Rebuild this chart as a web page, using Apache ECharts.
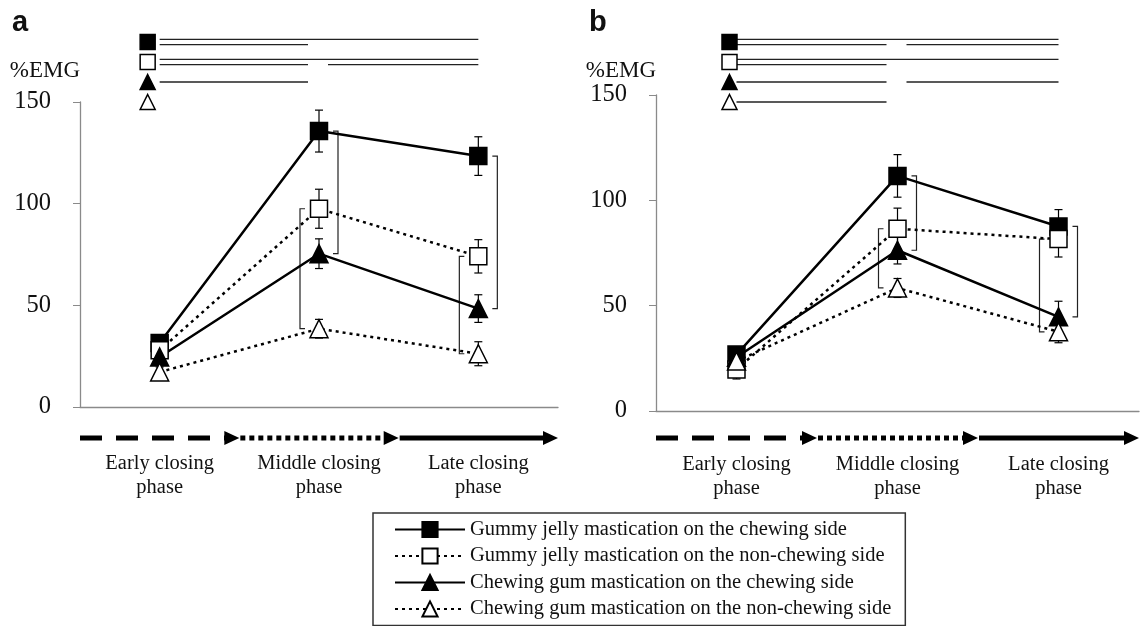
<!DOCTYPE html>
<html>
<head>
<meta charset="utf-8">
<script src="https://cdn.jsdelivr.net/npm/echarts@6/dist/echarts.min.js"></script>
<style>
  html, body { margin: 0; background: #fff; }
  #chart { width: 1140px; height: 626px; }
</style>
</head>
<body>
<div id="chart"></div>
<script>
// categories
const phases = ["Early closing\nphase", "Middle closing\nphase", "Late closing\nphase"];
const seriesNames = [
  "Gummy jelly mastication on the chewing side",
  "Gummy jelly mastication on the non-chewing side",
  "Chewing gum mastication on the chewing side",
  "Chewing gum mastication on the non-chewing side"
];
const yTicks = [0, 50, 100, 150];

// panel a: mean %EMG and error (SD)
const jellyChewA = [31.5, 135.7, 123.4];
const jellyNonA = [27.9, 97.5, 74.1];
const gumChewA = [24.6, 75.4, 48.4];
const gumNonA = [17.2, 38.5, 26.2];
const jellyChewErrA = [3, 10.3, 9.5];
const jellyNonErrA = [3, 9.6, 8.2];
const gumChewErrA = [3, 7.3, 6.8];
const gumNonErrA = [2.5, 4.6, 5.9];

// panel b
const jellyChewB = [26.8, 111.6, 87.6];
const jellyNonB = [19.7, 86.5, 81.6];
const gumChewB = [25.5, 76.3, 44.7];
const gumNonB = [23.7, 58.4, 37.6];
const jellyChewErrB = [3, 10.1, 8];
const jellyNonErrB = [4.5, 9.8, 8.5];
const gumChewErrB = [3, 6.5, 7.4];
const gumNonErrB = [3, 4.5, 5.2];

// significant differences between phases, per series (row)
const sigA = [[[0, 2], [0, 1]], [[0, 2], [0, 1], [1, 2]], [[0, 1]], []];
const sigB = [[[0, 2], [0, 1], [1, 2]], [[0, 2], [0, 1]], [[0, 1], [1, 2]], [[0, 1]]];

// brackets between series at a phase: [phase, seriesTop, seriesBottom, side]
const brackets = [[1, 0, 2, 1], [1, 1, 3, -1], [2, 0, 2, 1], [2, 1, 3, -1]];

const SERIF = "Liberation Serif";
const looks = [
  { symbol: "rect", size: 17, fill: "#000", line: "solid" },
  { symbol: "rect", size: 17, fill: "#fff", line: [3, 4] },
  { symbol: "triangle", size: 18, fill: "#000", line: "solid" },
  { symbol: "triangle", size: 18, fill: "#fff", line: [3, 4] }
];
const arrowDash = [[22, 14], [5, 4], null];

function errorBar(params, api) {
  const lo = api.coord([api.value(0), api.value(1)]);
  const hi = api.coord([api.value(0), api.value(2)]);
  const st = { stroke: "#000", lineWidth: 1.2 };
  return {
    type: "group",
    children: [
      { type: "line", shape: { x1: lo[0], y1: lo[1], x2: hi[0], y2: hi[1] }, style: st },
      { type: "line", shape: { x1: lo[0] - 4, y1: lo[1], x2: lo[0] + 4, y2: lo[1] }, style: st },
      { type: "line", shape: { x1: hi[0] - 4, y1: hi[1], x2: hi[0] + 4, y2: hi[1] }, style: st }
    ]
  };
}

function bracket(params, api) {
  const side = api.value(3);
  const a = api.coord([api.value(0), api.value(1)]);
  const b = api.coord([api.value(0), api.value(2)]);
  const x = a[0] + side * 19;
  const t = -side * 5;
  return {
    type: "polyline",
    shape: { points: [[x + t, a[1]], [x, a[1]], [x, b[1]], [x + t, b[1]]] },
    style: { stroke: "#222", lineWidth: 1.2, fill: null }
  };
}

function sigLine(params, api) {
  const from = api.value(0), to = api.value(1), lvl = api.value(3);
  const p1 = api.coord([from, api.value(2)]);
  const p2 = api.coord([to, api.value(2)]);
  const x1 = p1[0] + (from === 1 ? 9 : 0);
  const x2 = p2[0] - (to === 1 ? 11 : 0);
  const y = p1[1] + lvl * 2.6;
  return {
    type: "line",
    shape: { x1: x1, y1: y, x2: x2, y2: y },
    style: { stroke: "#222", lineWidth: 1.3 }
  };
}

function phaseArrow(offsetY) {
  return function (params, api) {
    const i = api.value(0);
    const c = api.coord([i, 0]);
    const w = api.size([1, 0])[0];
    const x0 = c[0] - w / 2 + (i === 0 ? 0 : 1);
    const x1 = c[0] + w / 2;
    const y = c[1] + offsetY;
    const head = 15;
    return {
      type: "group",
      children: [
        { type: "line", shape: { x1: x0, y1: y, x2: x1 - head + 1, y2: y },
          style: { stroke: "#000", lineWidth: 5, lineDash: arrowDash[i] } },
        { type: "polygon", shape: { points: [[x1 - head, y - 7], [x1, y], [x1 - head, y + 7]] },
          style: { fill: "#000" } }
      ]
    };
  };
}

function panelSeries(main, top, means, errs, sig, arrowOffset, symOffset) {
  const out = [];
  means.forEach((vals, k) => {
    out.push({
      type: "line", name: seriesNames[k], data: vals,
      xAxisIndex: main, yAxisIndex: main,
      symbol: looks[k].symbol, symbolSize: looks[k].size,
      itemStyle: { color: looks[k].fill, borderColor: "#000", borderWidth: 1.5 },
      lineStyle: { color: "#000", width: 2.5, type: looks[k].line },
      z: 4, animation: false
    });
  });
  const errData = [];
  means.forEach((vals, k) => vals.forEach((v, i) => errData.push([i, v - errs[k][i], v + errs[k][i]])));
  out.push({ type: "custom", xAxisIndex: main, yAxisIndex: main, data: errData,
    encode: { x: 0, y: [1, 2] }, renderItem: errorBar, z: 2, animation: false });
  out.push({ type: "custom", xAxisIndex: main, yAxisIndex: main,
    data: brackets.map(b => [b[0], means[b[1]][b[0]], means[b[2]][b[0]], b[3]]),
    encode: { x: 0, y: [1, 2] }, renderItem: bracket, z: 2, animation: false });
  out.push({ type: "custom", xAxisIndex: main, yAxisIndex: main, clip: false,
    data: phases.map((p, i) => [i, 0]), encode: { x: 0, y: 1 },
    renderItem: phaseArrow(arrowOffset), z: 2, animation: false });
  const sigData = [];
  sig.forEach((pairs, row) => {
    const hasFull = pairs.some(p => p[0] === 0 && p[1] === 2);
    pairs.forEach(p => {
      const lvl = (p[0] === 0 && p[1] === 2) ? -1 : (hasFull ? 1 : 0);
      sigData.push([p[0], p[1], row, lvl]);
    });
  });
  out.push({ type: "custom", xAxisIndex: top, yAxisIndex: top, data: sigData,
    encode: { x: [0, 1], y: 2 }, renderItem: sigLine, animation: false });
  out.push({ type: "scatter", xAxisIndex: top, yAxisIndex: top, symbolSize: 15,
    symbolOffset: [symOffset, 0],
    data: seriesNames.map((n, k) => ({ value: [0, k], symbol: looks[k].symbol,
      itemStyle: { color: looks[k].fill, borderColor: "#000", borderWidth: 1.5, opacity: 1 } })),
    animation: false });
  return out;
}

function mainX(grid, margin) {
  return {
    type: "category", gridIndex: grid, data: phases, boundaryGap: true,
    axisLine: { lineStyle: { color: "#8a8a8a", width: 1.3 } },
    axisTick: { inside: true, length: 6, lineStyle: { color: "#8a8a8a" } },
    axisLabel: { interval: 0, hideOverlap: false, color: "#111", fontFamily: SERIF,
      fontSize: 20.5, lineHeight: 24.5, margin: margin }
  };
}
function mainY(grid, nameGap) {
  return {
    type: "value", gridIndex: grid, min: yTicks[0], max: yTicks[yTicks.length - 1], interval: 50,
    name: "%EMG", nameLocation: "end", nameGap: nameGap,
    nameTextStyle: { color: "#111", fontFamily: SERIF, fontSize: 23, align: "right", verticalAlign: "bottom" },
    splitLine: { show: false },
    axisLine: { show: true, lineStyle: { color: "#8a8a8a", width: 1.3 } },
    axisTick: { show: true, length: 7, lineStyle: { color: "#8a8a8a" } },
    axisLabel: { color: "#111", fontFamily: SERIF, fontSize: 24.5, margin: 29 }
  };
}
function topX(grid) {
  return { type: "category", gridIndex: grid, data: phases, boundaryGap: true, show: false };
}
function topY(grid) {
  return { type: "category", gridIndex: grid, data: seriesNames, inverse: true, show: false };
}

const chart = echarts.init(document.getElementById("chart"));
chart.setOption({
  backgroundColor: "#fff",
  animation: false,
  grid: [
    { left: 80, top: 102, width: 478, height: 305 },
    { left: 80, top: 32, width: 478, height: 80 },
    { left: 656, top: 95, width: 483, height: 316 },
    { left: 656, top: 32, width: 483, height: 80 }
  ],
  xAxis: [mainX(0, 44), topX(1), mainX(2, 41), topX(3)],
  yAxis: [mainY(0, 20), topY(1), mainY(2, 13), topY(3)],
  legend: {
    data: seriesNames, orient: "vertical", left: 373, top: 513,
    itemWidth: 70, itemHeight: 19, itemGap: 5.5,
    padding: [6, 14, 6, 21],
    borderColor: "#333", borderWidth: 1.5, backgroundColor: "#fff",
    textStyle: { color: "#111", fontFamily: SERIF, fontSize: 20.5 }
  },
  graphic: [
    { type: "text", left: 12, top: 8, style: { text: "a", fontFamily: "Liberation Sans", fontWeight: "bold", fontSize: 29, fill: "#111" } },
    { type: "text", left: 589, top: 8, style: { text: "b", fontFamily: "Liberation Sans", fontWeight: "bold", fontSize: 29, fill: "#111" } }
  ],
  series: [].concat(
    panelSeries(0, 1, [jellyChewA, jellyNonA, gumChewA, gumNonA],
      [jellyChewErrA, jellyNonErrA, gumChewErrA, gumNonErrA], sigA, 31, -12),
    panelSeries(2, 3, [jellyChewB, jellyNonB, gumChewB, gumNonB],
      [jellyChewErrB, jellyNonErrB, gumChewErrB, gumNonErrB], sigB, 27, -7)
  )
});
</script>
</body>
</html>
